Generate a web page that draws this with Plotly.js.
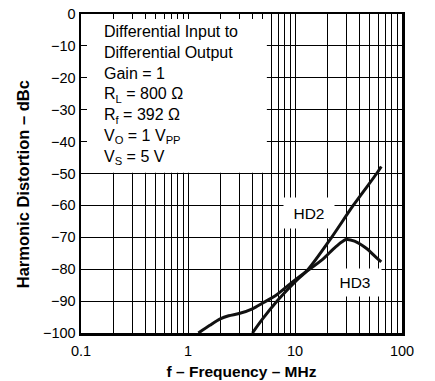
<!DOCTYPE html>
<html>
<head>
<meta charset="utf-8">
<script src="https://cdn.plot.ly/plotly-3.0.1.min.js"></script>
<style>
html,body{margin:0;padding:0;background:#fff;}
#chart{width:435px;height:381px;}
</style>
</head>
<body>
<div id="chart"></div>
<script>
// Frequency (MHz) and harmonic distortion (dBc)
var hd2Freq = [4.0, 5.0, 7.0, 10, 13.3, 22, 35, 58, 64];
var hd2Db   = [-100, -95.5, -89.5, -84, -80, -70, -60, -50, -47.8];

var hd3Freq = [1.25, 1.6, 2.0, 2.4, 3.0, 4.0, 5.0, 6.75, 9.0, 12, 18, 24, 30, 36, 47, 56, 64];
var hd3Db   = [-100, -97.6, -95.6, -94.6, -93.9, -92.4, -90.6, -88, -84.6, -81.4, -77, -73, -70.7, -71.2, -73.6, -76, -77.7];

var xTickVals = [0.1,0.2,0.3,0.4,0.5,0.6,0.7,0.8,0.9,1,2,3,4,5,6,7,8,9,10,20,30,40,50,60,70,80,90,100];
var xTickText = ['0.1','','','','','','','','','1','','','','','','','','','10','','','','','','','','','100'];
var yTickVals = [-100,-90,-80,-70,-60,-50,-40,-30,-20,-10,0];
var yTickText = ['\u2212100','\u221290','\u221280','\u221270','\u221260','\u221250','\u221240','\u221230','\u221220','\u221210','0'];

var xTitle = 'f \u2013 Frequency \u2013 MHz';
var yTitle = 'Harmonic Distortion \u2013 dBc';
var conditionsText = 'Differential Input to<br>Differential Output<br>Gain = 1<br>R<sub>L</sub> = 800 \u03A9<br>R<sub>f</sub> = 392 \u03A9<br>V<sub>O</sub> = 1 V<sub>PP</sub><br>V<sub>S</sub> = 5 V';

var fontFam = '"Liberation Sans", Arial, sans-serif';

var traces = [
  {x: hd2Freq, y: hd2Db, type: 'scatter', mode: 'lines', name: 'HD2',
   line: {color: '#111', width: 3, shape: 'spline', smoothing: 0.8}},
  {x: hd3Freq, y: hd3Db, type: 'scatter', mode: 'lines', name: 'HD3',
   line: {color: '#111', width: 3, shape: 'spline', smoothing: 0.8}}
];

var layout = {
  width: 435, height: 381,
  margin: {l: 81, r: 33, t: 14, b: 48, pad: 0},
  paper_bgcolor: '#fff', plot_bgcolor: '#fff',
  showlegend: false,
  font: {family: fontFam, color: '#000', size: 14.5},
  xaxis: {
    type: 'log', range: [-1, 2],
    tickmode: 'array', tickvals: xTickVals, ticktext: xTickText,
    ticks: 'inside', ticklen: 5, tickcolor: '#000', tickwidth: 1,
    showgrid: true, gridcolor: '#000', gridwidth: 1,
    showline: true, linecolor: '#000', linewidth: 2.5, mirror: 'ticks',
    zeroline: false,
    tickfont: {family: fontFam, size: 14.5, color: '#000'},
    ticklabelstandoff: 3,
    title: {text: xTitle, font: {family: fontFam, size: 15.5, weight: 'bold', color: '#000'}, standoff: 8}
  },
  yaxis: {
    range: [-100, 0],
    tickmode: 'array', tickvals: yTickVals, ticktext: yTickText,
    ticks: 'inside', ticklen: 6, tickcolor: '#000', tickwidth: 1,
    showgrid: true, gridcolor: '#000', gridwidth: 1,
    showline: true, linecolor: '#000', linewidth: 2.5, mirror: 'ticks',
    zeroline: false,
    tickfont: {family: fontFam, size: 14.5, color: '#000'}
  },
  shapes: [
    {type: 'rect', layer: 'above', xref: 'paper', yref: 'paper',
     x0: 0.0187, x1: 0.579, y0: 0.5025, y1: 0.984,
     fillcolor: 'rgb(255,255,255)', line: {color: 'rgba(0,0,0,0)', width: 0}}
  ],
  annotations: [
    {text: yTitle, xref: 'paper', yref: 'paper', x: -0.18, y: 0.467,
     xanchor: 'center', yanchor: 'middle', textangle: -90, showarrow: false,
     font: {family: fontFam, size: 16.5, weight: 'bold', color: '#000'}},
    {text: conditionsText, xref: 'paper', yref: 'paper', x: 0.066, y: 0.978,
     xanchor: 'left', yanchor: 'top', align: 'left', showarrow: false,
     font: {family: fontFam, size: 16, color: '#000'}},
    {text: 'HD2', xref: 'x', yref: 'y', x: Math.log10(13.5), y: -62.5,
     showarrow: false, bgcolor: '#fff', width: 48, height: 28,
     font: {family: fontFam, size: 15.5, color: '#000'}},
    {text: 'HD3', xref: 'x', yref: 'y', x: Math.log10(36.4), y: -84.3,
     showarrow: false, bgcolor: '#fff', width: 50, height: 25,
     font: {family: fontFam, size: 15.5, color: '#000'}}
  ]
};

Plotly.newPlot('chart', traces, layout, {displayModeBar: false, staticPlot: true});
</script>
</body>
</html>
